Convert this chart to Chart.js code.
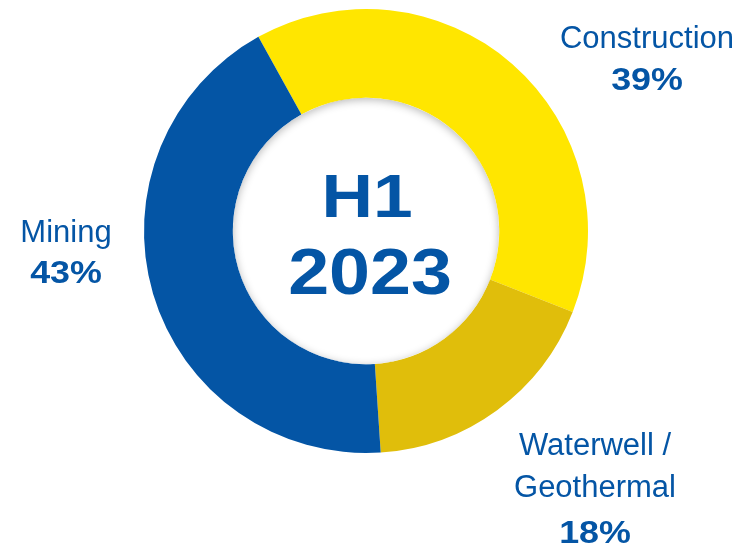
<!DOCTYPE html>
<html>
<head>
<meta charset="utf-8">
<script src="https://cdn.jsdelivr.net/npm/chart.js@4.4.0/dist/chart.umd.min.js"></script>
<style>
  html, body { margin: 0; padding: 0; background: #fff; }
  #wrap { width: 755px; height: 548px; position: relative; }
</style>
</head>
<body>
<div id="wrap"><canvas id="mycanvas" width="755" height="548"></canvas></div>
<script>
// segments, clockwise from the top-left boundary
var segments = ["Construction", "Waterwell / Geothermal", "Mining"];
var shares = [39, 18, 43];
var shareLabels = ["39%", "18%", "43%"];
var nameLines = [["Construction"], ["Waterwell /", "Geothermal"], ["Mining"]];
var centerLines = ["H1", "2023"];

var blue = "#0455A5";
var colors = ["#FFE600", "#E0BE0B", "#0455A5"];

// where each label block sits (center x, baseline of first line)
var labelPos = [
    { x: 647, y: 48, gap: 42 },
    { x: 595, y: 455, gap: 42, pctGap: 46 },
    { x: 66, y: 242, gap: 41 }
];

function boldText(ctx, txt, x, y, size, sx) {
    ctx.save();
    ctx.font = "bold " + size + "px 'Liberation Sans', Arial, sans-serif";
    ctx.translate(x, y);
    ctx.scale(sx, 1);
    ctx.fillText(txt, 0, 0);
    ctx.restore();
}

var textPlugin = {
    id: "donutText",
    afterDatasetsDraw: function(chart) {
        var ctx = chart.ctx;
        var arc = chart.getDatasetMeta(0).data[0];
        var cx = arc.x, cy = arc.y, r = arc.innerRadius;

        // soft shadow round the inside of the hole
        ctx.save();
        ctx.beginPath();
        ctx.arc(cx, cy, r, 0, Math.PI * 2);
        ctx.clip();
        ctx.shadowColor = "rgba(0,0,0,0.28)";
        ctx.shadowBlur = 9;
        ctx.shadowOffsetY = 2;
        ctx.lineWidth = 20;
        ctx.strokeStyle = "#fff";
        ctx.beginPath();
        ctx.arc(cx, cy, r + 10, 0, Math.PI * 2);
        ctx.stroke();
        ctx.restore();

        ctx.save();
        ctx.fillStyle = blue;
        ctx.textAlign = "center";
        ctx.textBaseline = "alphabetic";
        boldText(ctx, centerLines[0], cx + 1, cy - 14, 62, 1.15);
        boldText(ctx, centerLines[1], cx + 4, cy + 63, 64, 1.15);

        for (var i = 0; i < segments.length; i++) {
            var p = labelPos[i];
            var lines = nameLines[i];
            ctx.font = "31px 'Liberation Sans', Arial, sans-serif";
            for (var j = 0; j < lines.length; j++) {
                ctx.fillText(lines[j], p.x, p.y + j * p.gap);
            }
            var py = p.y + (lines.length - 1) * p.gap + (p.pctGap || p.gap);
            boldText(ctx, shareLabels[i], p.x, py, 32, 1.12);
        }
        ctx.restore();
    }
};

var ctx = document.getElementById("mycanvas");

var donut = new Chart(ctx, {
    type: "doughnut",
    data: {
        labels: segments,
        datasets: [{
            data: shares,
            backgroundColor: colors,
            borderWidth: 0,
            hoverOffset: 0,
            offset: 0
        }]
    },
    options: {
        responsive: false,
        animation: false,
        rotation: -29,
        cutout: "60%",
        layout: { padding: { top: 9, bottom: 95, left: 143, right: 166 } },
        plugins: {
            legend: { display: false },
            tooltip: { enabled: false }
        },
        events: []
    },
    plugins: [textPlugin]
});
</script>
</body>
</html>
